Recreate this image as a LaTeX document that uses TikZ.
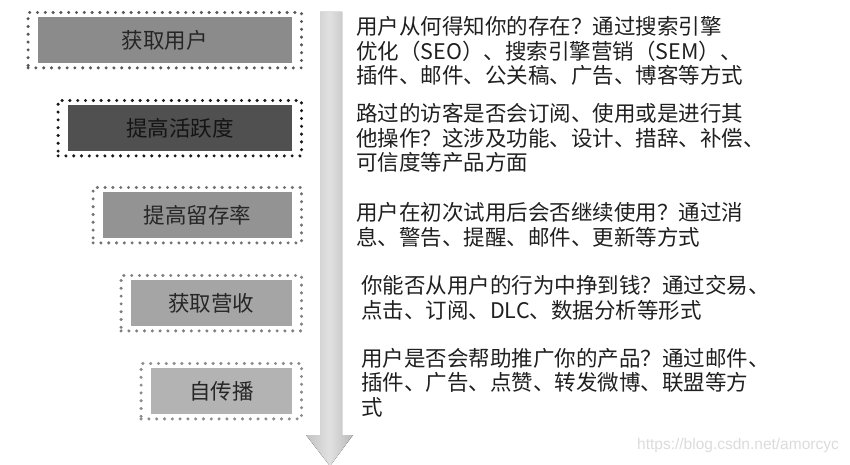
\documentclass[tikz,border=0pt]{standalone}
\usepackage{fontspec}
\newfontfamily\cjk{Noto Sans CJK SC}
\newfontfamily\wmfont{Liberation Sans}
\usetikzlibrary{positioning, fit}
\definecolor{stageA}{RGB}{139,139,139}
\definecolor{stageB}{RGB}{80,80,80}
\definecolor{stageC}{RGB}{147,147,147}
\definecolor{stageD}{RGB}{165,165,165}
\definecolor{stageE}{RGB}{179,179,179}
\definecolor{flowgray}{RGB}{205,205,205}

\begin{document}
\begin{tikzpicture}[
  x=1pt, y=-1pt,
  stagebox/.style={rectangle, anchor=north east, minimum height=46pt,
    inner sep=0pt, text=black!85, font=\cjk\fontsize{21.5}{24.5}\selectfont},
  frame/.style={rectangle, draw=#1, line width=3.4pt,
    dash pattern=on 0pt off 7.8pt, line cap=round,
    inner xsep=9.5pt, inner ysep=4.5pt},
  desc/.style={anchor=base west, align=left, inner sep=0pt,
    text=black!88, font=\cjk\fontsize{21.5}{24.5}\selectfont},
  wm/.style={anchor=west, inner sep=0pt, text=black!14,
    font=\wmfont\fontsize{15.5}{17}\selectfont}
]
\useasboundingbox (0,0) rectangle (850,465);

% flow arrow
\fill[left color=flowgray!95!black, right color=flowgray!90!black,
      middle color=flowgray!60]
  (320,12) -- (342,12) -- (342,435) -- (353,435) -- (330,466)
  -- (306,435) -- (320,435) -- cycle;

% stages
\node[stagebox, fill=stageA, minimum width=254pt] (s1) at (292,17) {获取用户};
\node[stagebox, fill=stageB, minimum width=224pt, text=black!92] (s2) at (292,105) {提高活跃度};
\node[stagebox, fill=stageC, minimum width=189pt] (s3) at (292,192) {提高留存率};
\node[stagebox, fill=stageD, minimum width=161pt] (s4) at (292,280) {获取营收};
\node[stagebox, fill=stageE, minimum width=141pt] (s5) at (292,368) {自传播};

\foreach \s/\c in {s1/black!65, s2/black!90, s3/black!55, s4/black!50, s5/black!45}
  \node[frame=\c, fit=(\s)] (\s-f) {};

% descriptions (anchored on the last line)
\node[desc] (d1) at (356,84)
  {用户从何得知你的存在？通过搜索引擎\\
   优化（SEO）、搜索引擎营销（SEM）、\\
   插件、邮件、公关稿、广告、博客等方式};
\node[desc] (d2) at (356,171)
  {路过的访客是否会订阅、使用或是进行其\\
   他操作？这涉及功能、设计、措辞、补偿、\\
   可信度等产品方面};
\node[desc] (d3) at (356,245)
  {用户在初次试用后会否继续使用？通过消\\
   息、警告、提醒、邮件、更新等方式};
\node[desc] (d4) at (361,318)
  {你能否从用户的行为中挣到钱？通过交易、\\
   点击、订阅、DLC、数据分析等形式};
\node[desc] (d5) at (361,415)
  {用户是否会帮助推广你的产品？通过邮件、\\
   插件、广告、点赞、转发微博、联盟等方\\
   式};

\node[wm] (url) at (637,445) {https://blog.csdn.net/amorcyc};
\end{tikzpicture}
\end{document}
